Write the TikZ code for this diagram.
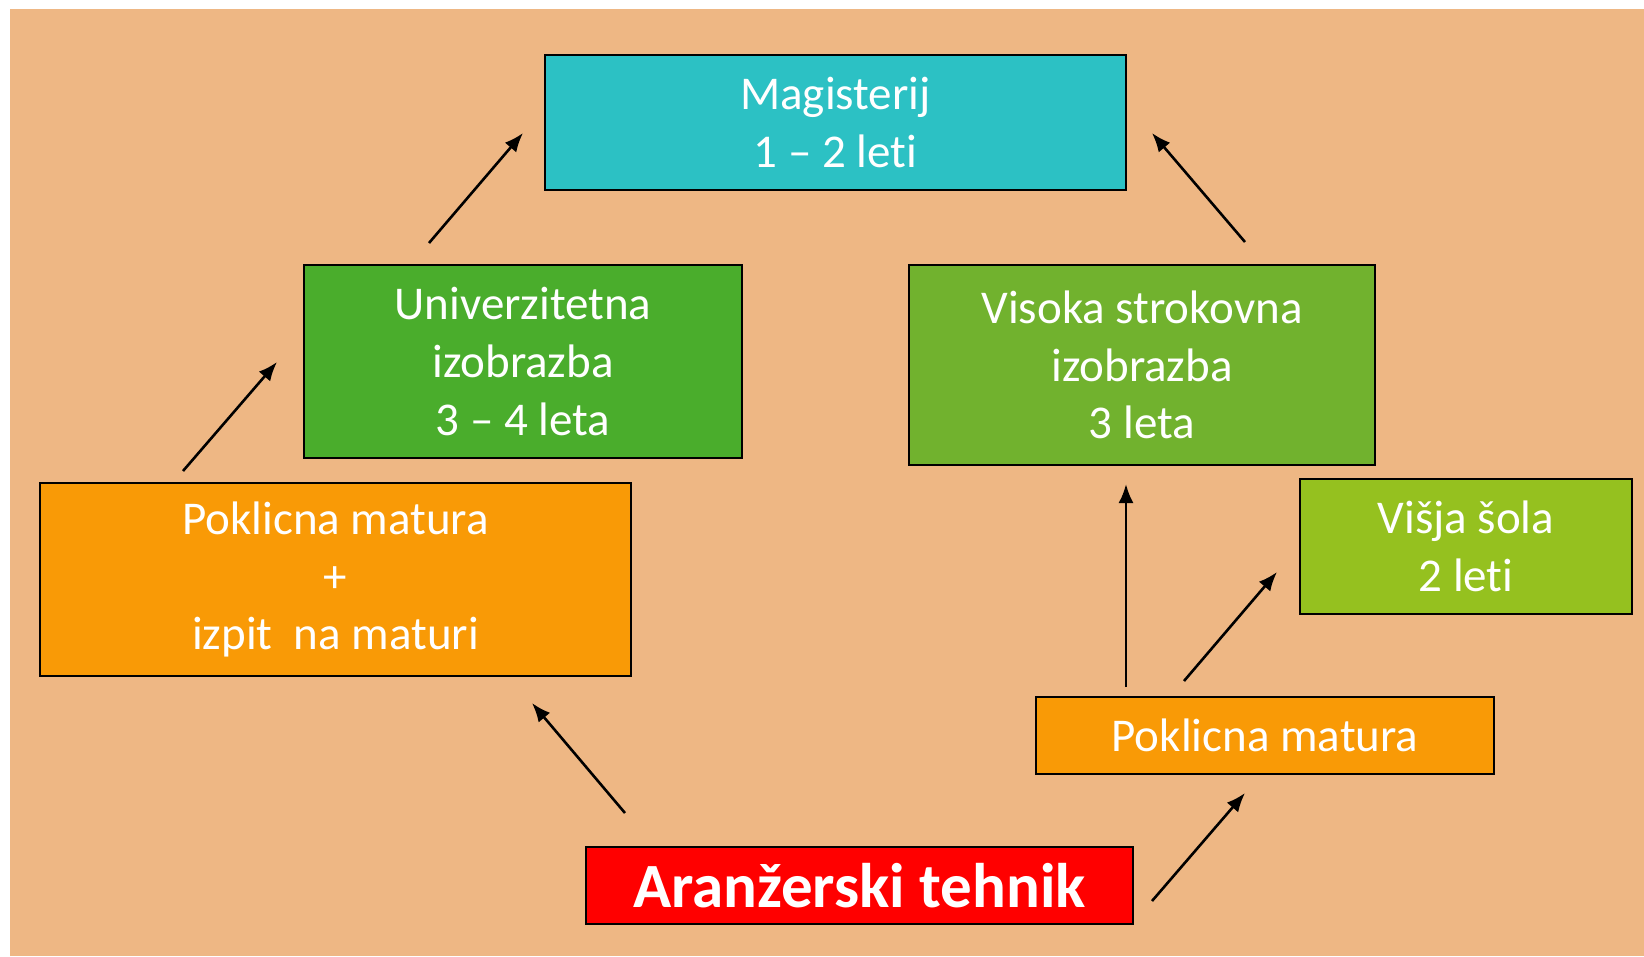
\documentclass[tikz,border=0pt]{standalone}
\usepackage{fontspec}
\setmainfont[Ligatures={NoCommon}]{Carlito}
\usetikzlibrary{arrows.meta}
\definecolor{bgc}{RGB}{238,183,132}
\definecolor{teal}{RGB}{44,193,196}
\definecolor{gA}{RGB}{74,173,44}
\definecolor{gB}{RGB}{113,178,46}
\definecolor{gC}{RGB}{149,193,31}
\definecolor{orng}{RGB}{249,154,6}
\definecolor{rd}{RGB}{255,0,0}
\tikzset{
  box/.style={draw=black, line width=2pt, inner sep=0pt, align=center, text=white,
    font=\fontsize{47}{57.7}\selectfont},
  arr/.style={-{Latex[length=19pt,width=15pt]}, line width=2.6pt, black}
}
\begin{document}
\begin{tikzpicture}[x=1pt,y=-1pt]
\useasboundingbox (0,0) rectangle (1644,956);
\fill[bgc] (10,9) rectangle (1644,956);
\node[box, fill=teal, minimum width=581, minimum height=135] (mag) at (835.5,122.5) {Magisterij\\1 -- 2 leti};
\node[box, fill=gA, minimum width=438, minimum height=193] (univ) at (523,361.5) {Univerzitetna\\izobrazba\\3 -- 4 leta};
\node[box, fill=gB, minimum width=466, minimum height=200] (vis) at (1142,365) {Visoka strokovna\\izobrazba\\3 leta};
\node[box, fill=orng, minimum width=591, minimum height=193] (pmi) at (335.5,579.5) {Poklicna matura\\+\\izpit\ \ na maturi};
\node[box, fill=gC, minimum width=332, minimum height=135] (visja) at (1466,546.5) {Višja šola\\2 leti};
\node[box, fill=orng, minimum width=458, minimum height=77] (pm) at (1265,735.5) {Poklicna matura};
\node[box, fill=rd, minimum width=547, minimum height=77, font=\fontsize{63}{70}\selectfont\bfseries] (ar) at (859.5,885.5) {Aranžerski tehnik};
% arrow end points
\coordinate (a1s) at (429,243); \coordinate (a1e) at (523,133);
\coordinate (a2s) at (183,471); \coordinate (a2e) at (277,362);
\coordinate (a3s) at (625,813); \coordinate (a3e) at (532,703);
\coordinate (a4s) at (1245,242); \coordinate (a4e) at (1152,133);
\coordinate (a5s) at (1126,687); \coordinate (a5e) at (1126,484);
\coordinate (a6s) at (1184,681); \coordinate (a6e) at (1277,572);
\coordinate (a7s) at (1152,901); \coordinate (a7e) at (1245,793);
\draw[arr] (a1s) -- (a1e);
\draw[arr] (a2s) -- (a2e);
\draw[arr] (a3s) -- (a3e);
\draw[arr] (a4s) -- (a4e);
\draw[arr] (a5s) -- (a5e);
\draw[arr] (a6s) -- (a6e);
\draw[arr] (a7s) -- (a7e);
\end{tikzpicture}
\end{document}
